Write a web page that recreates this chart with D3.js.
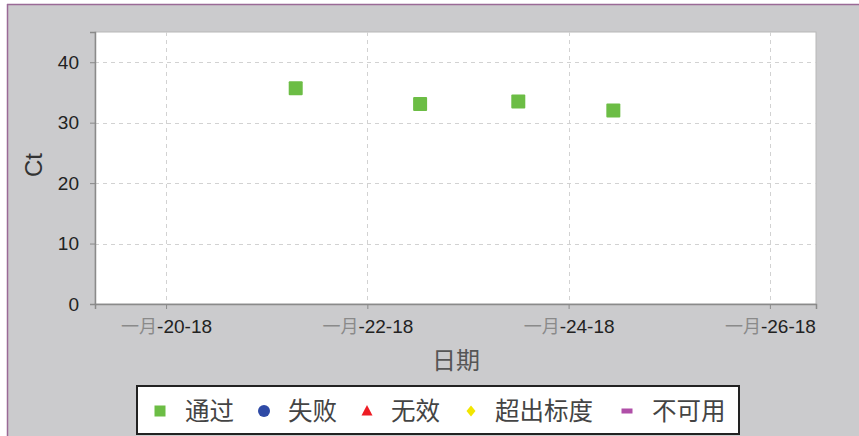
<!DOCTYPE html>
<html>
<head>
<meta charset="utf-8">
<script src="https://cdn.jsdelivr.net/npm/d3@7"></script>
<style>
  html, body { margin: 0; padding: 0; background: #ffffff; }
  svg { display: block; }
  text { font-family: "Liberation Sans", Arial, sans-serif; }
  .cjk { font-family: "Noto Sans CJK SC", sans-serif; }
</style>
</head>
<body>
<svg id="chart" width="859" height="436"></svg>
<script>
// Run dates (local time) and Ct values of the "通过" series
const runDates = ["2018-01-21T06:55", "2018-01-22T12:35", "2018-01-23T12:00", "2018-01-24T10:40"];
const ctValues = [35.7, 33.1, 33.5, 32.0];

// Axis ticks
const xTickDates = ["2018-01-20", "2018-01-22", "2018-01-24", "2018-01-26"];
const xTickLabels = ["-20-18", "-22-18", "-24-18", "-26-18"];
const yTicks = [0, 10, 20, 30, 40];

// Legend entries
const legendNames = ["通过", "失败", "无效", "超出标度", "不可用"];
const legendColors = ["#6cbd45", "#2f4aa6", "#ee1c24", "#f2e600", "#b04fa8"];

const parse = d3.isoParse;
const svg = d3.select("#chart");

// Panel background with a thin purple frame on top / left
svg.append("rect").attr("x", 7).attr("y", 4).attr("width", 852).attr("height", 432).attr("fill", "#cbcbcd");
svg.append("line").attr("x1", 7).attr("x2", 859).attr("y1", 4.5).attr("y2", 4.5).attr("stroke", "#9a6a96").attr("stroke-width", 1.5);
svg.append("line").attr("x1", 7.5).attr("x2", 7.5).attr("y1", 4).attr("y2", 436).attr("stroke", "#9a6a96").attr("stroke-width", 1.5);

const plot = { left: 95, top: 32, right: 816, bottom: 304 };

const x = d3.scaleTime()
  .domain([parse("2018-01-19T07:03"), parse("2018-01-26T11:00")])
  .range([plot.left, plot.right]);
const y = d3.scaleLinear().domain([0, 45]).range([plot.bottom, plot.top]);

// Plot area
svg.append("rect")
  .attr("x", plot.left).attr("y", plot.top)
  .attr("width", plot.right - plot.left).attr("height", plot.bottom - plot.top)
  .attr("fill", "#ffffff").attr("stroke", "#b8b8b8").attr("stroke-width", 1);

// Dashed grid
const grid = svg.append("g");
grid.selectAll("line.h").data(yTicks.filter(d => d > 0)).join("line")
  .attr("x1", plot.left).attr("x2", plot.right)
  .attr("y1", d => Math.round(y(d)) + 0.5).attr("y2", d => Math.round(y(d)) + 0.5)
  .attr("stroke", "#d2d2d2").attr("stroke-dasharray", "4,4");
grid.selectAll("line.v").data(xTickDates).join("line")
  .attr("x1", d => Math.round(x(parse(d))) + 0.5).attr("x2", d => Math.round(x(parse(d))) + 0.5)
  .attr("y1", plot.top).attr("y2", plot.bottom)
  .attr("stroke", "#d2d2d2").attr("stroke-dasharray", "4,4");

// Y axis
const yAxis = svg.append("g")
  .attr("transform", `translate(${plot.left},0)`)
  .call(d3.axisLeft(y).tickValues(yTicks).tickSize(5).tickPadding(11));
yAxis.select(".domain").attr("stroke", "#8a8a8a").attr("stroke-width", 1.5);
yAxis.selectAll(".tick line").attr("stroke", "#8a8a8a");
yAxis.selectAll(".tick text")
  .attr("font-size", 19).attr("fill", "#222")
  .style("font-family", "'Liberation Sans', Arial, sans-serif");

// X axis
const xAxis = svg.append("g")
  .attr("transform", `translate(0,${plot.bottom})`)
  .call(d3.axisBottom(x).tickValues(xTickDates.map(parse)).tickSize(5).tickFormat(() => ""));
xAxis.select(".domain").attr("stroke", "#8a8a8a").attr("stroke-width", 1.5);
xAxis.selectAll(".tick line").attr("stroke", "#8a8a8a");
xAxis.selectAll(".tick text").remove();
xAxis.selectAll(".tick").each(function(d, i) {
  const t = d3.select(this).append("text")
    .attr("y", 29).attr("text-anchor", "middle")
    .attr("font-size", 19).attr("fill", "#222");
  t.append("tspan").attr("class", "cjk").attr("font-size", 18).attr("fill", "#8a8a8a").text("一月");
  t.append("tspan").text(xTickLabels[i]);
});

// Axis titles
svg.append("text")
  .attr("transform", "translate(42,165) rotate(-90)")
  .attr("text-anchor", "middle").attr("font-size", 24).attr("fill", "#333")
  .text("Ct");
svg.append("text").attr("class", "cjk")
  .attr("x", 456).attr("y", 369)
  .attr("text-anchor", "middle").attr("font-size", 24).attr("fill", "#555")
  .text("日期");

// Data points
const pts = runDates.map((d, i) => ({ date: parse(d), ct: ctValues[i] }));
svg.append("g").selectAll("rect").data(pts).join("rect")
  .attr("x", d => x(d.date) - 7).attr("y", d => y(d.ct) - 7)
  .attr("width", 14).attr("height", 14).attr("rx", 1)
  .attr("fill", legendColors[0]);

// Legend
const lg = svg.append("g");
lg.append("rect").attr("x", 137).attr("y", 386).attr("width", 602).attr("height", 48)
  .attr("fill", "#ffffff").attr("stroke", "#222").attr("stroke-width", 2);
const symX = [160, 264, 367, 471, 627];
const textX = [185, 288, 391, 495, 652];
const cy = 411;
const symbols = [
  g => g.append("rect").attr("x", -5.5).attr("y", -5.5).attr("width", 11).attr("height", 11),
  g => g.append("circle").attr("r", 6),
  g => g.append("path").attr("d", "M0,-6L5.5,4.5L-5.5,4.5Z"),
  g => g.append("path").attr("d", "M0,-5.5L4.5,0L0,5.5L-4.5,0Z"),
  g => g.append("rect").attr("x", -5.5).attr("y", -2.5).attr("width", 11).attr("height", 5)
];
legendNames.forEach((name, i) => {
  const g = lg.append("g").attr("transform", `translate(${symX[i]},${cy})`).attr("fill", legendColors[i]);
  symbols[i](g);
  lg.append("text").attr("class", "cjk")
    .attr("x", textX[i]).attr("y", cy + 8.5)
    .attr("font-size", 24.5).attr("fill", "#444")
    .text(name);
});
</script>
</body>
</html>
